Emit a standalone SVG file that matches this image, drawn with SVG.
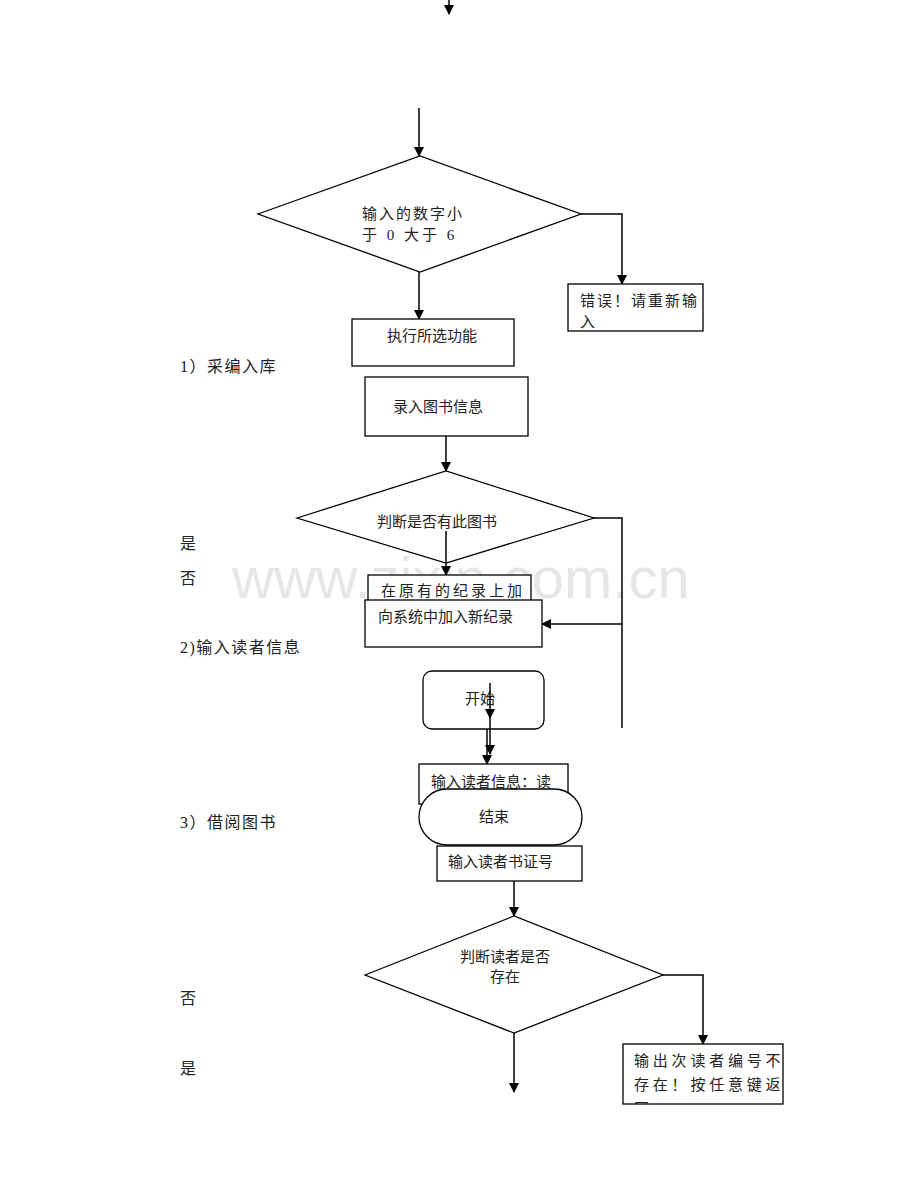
<svg xmlns="http://www.w3.org/2000/svg" width="920" height="1191" viewBox="0 0 920 1191">
<defs>
<marker id="ah" markerWidth="10" markerHeight="10" refX="9" refY="5" orient="auto" markerUnits="userSpaceOnUse" viewBox="0 0 10 10">
<path d="M0,0 L10,5 L0,10 Z" fill="#000"/>
</marker>
<clipPath id="clipOut"><rect x="623" y="1044" width="160" height="60"/></clipPath>
</defs>
<style>
text{font-family:"Liberation Serif","Noto Sans CJK SC",serif;fill:#222;font-size:15px}
.lbl{font-size:16px;letter-spacing:1.5px}
.box{fill:#fff;stroke:#000;stroke-width:1.3}
.ln{fill:none;stroke:#000;stroke-width:1.5}
.arr{fill:none;stroke:#000;stroke-width:1.5}
.wm{font-family:"Liberation Sans",Arial,sans-serif;font-size:58px;fill:#e6e6e6}
</style>
<rect width="920" height="1191" fill="#fff"/>
<text class="wm" x="232" y="598">www.zixin.com.cn</text>

<g id="labels">
<text class="lbl" x="180" y="372">1）采编入库</text>
<text class="lbl" x="180" y="549">是</text>
<text class="lbl" x="180" y="584">否</text>
<text class="lbl" x="180" y="653">2)输入读者信息</text>
<text class="lbl" x="180" y="828">3）借阅图书</text>
<text class="lbl" x="180" y="1004">否</text>
<text class="lbl" x="180" y="1074">是</text>
</g>

<g id="connectors">
<line class="arr" x1="449" y1="0" x2="449" y2="14" marker-end="url(#ah)"/>
<line class="arr" x1="419" y1="108" x2="419" y2="156" marker-end="url(#ah)"/>
<polyline class="ln" points="581,214 622,214 622,284" marker-end="url(#ah)"/>
<line class="arr" x1="419" y1="272" x2="419" y2="319" marker-end="url(#ah)"/>
<line class="arr" x1="446" y1="436" x2="446" y2="471" marker-end="url(#ah)"/>
<polyline class="ln" points="594,518 622,518 622,728"/>
<line class="arr" x1="622" y1="624" x2="542" y2="624" marker-end="url(#ah)"/>
<line class="arr" x1="514" y1="881" x2="514" y2="916" marker-end="url(#ah)"/>
<polyline class="ln" points="663,975 703,975 703,1044" marker-end="url(#ah)"/>
<line class="arr" x1="514" y1="1033" x2="514" y2="1092" marker-end="url(#ah)"/>
</g>

<g id="n-decision1">
<polygon class="box" points="258,214 420,156 581,214 420,272"/>
<text x="362" y="219" font-size="16" letter-spacing="2">输入的数字小</text>
<text x="362" y="240" font-size="16" letter-spacing="3">于 0 大于 6</text>
</g>

<g id="n-error1">
<rect class="box" x="568" y="284" width="135" height="47"/>
<text x="580" y="306" font-size="14" letter-spacing="2">错误！请重新输</text>
<text x="580" y="327" font-size="14">入</text>
</g>

<g id="n-exec">
<rect class="box" x="352" y="319" width="162" height="47"/>
<text x="387" y="341">执行所选功能</text>
</g>

<g id="n-inputbook">
<rect class="box" x="365" y="377" width="163" height="59"/>
<text x="393" y="412">录入图书信息</text>
</g>

<g id="n-decision2">
<polygon class="box" points="297,518 446,471 594,518 446,563"/>
<text x="377" y="527">判断是否有此图书</text>
<line class="arr" x1="446" y1="531" x2="446" y2="575" marker-end="url(#ah)"/>
</g>

<g id="n-addexisting">
<rect class="box" x="368" y="575" width="163" height="30"/>
<text x="381" y="596" font-size="14" letter-spacing="3">在原有的纪录上加</text>
</g>

<g id="n-addnew">
<rect class="box" x="365" y="600" width="177" height="47"/>
<text x="378" y="622">向系统中加入新纪录</text>
</g>

<g id="n-start">
<rect class="box" x="423" y="671" width="121" height="58" rx="9"/>
<text x="465" y="704">开始</text>
<line class="arr" x1="490" y1="683" x2="490" y2="718" marker-end="url(#ah)"/>
<line class="arr" x1="490" y1="718" x2="490" y2="754" marker-end="url(#ah)"/>
<line class="arr" x1="487" y1="729" x2="487" y2="764" marker-end="url(#ah)"/>
</g>

<g id="n-inputreader">
<rect class="box" x="419" y="764" width="149" height="40"/>
<text x="431" y="787">输入读者信息：读</text>
</g>

<g id="n-end">
<rect class="box" x="419" y="789" width="163" height="56" rx="28"/>
<text x="479" y="822">结束</text>
</g>

<g id="n-cardno">
<rect class="box" x="437" y="846" width="145" height="35"/>
<text x="448" y="867">输入读者书证号</text>
</g>

<g id="n-decision3">
<polygon class="box" points="365,975 514,916 663,975 514,1033"/>
<text x="460" y="962">判断读者是否</text>
<text x="490" y="982">存在</text>
</g>

<g id="n-error2">
<rect class="box" x="623" y="1044" width="160" height="60"/>
<g clip-path="url(#clipOut)">
<text x="634" y="1066" font-size="14" letter-spacing="3.8">输出次读者编号不</text>
<text x="634" y="1090" font-size="14" letter-spacing="3.8">存在！按任意键返</text>
<text x="634" y="1114" font-size="14">回</text>
</g>
</g>
</svg>
